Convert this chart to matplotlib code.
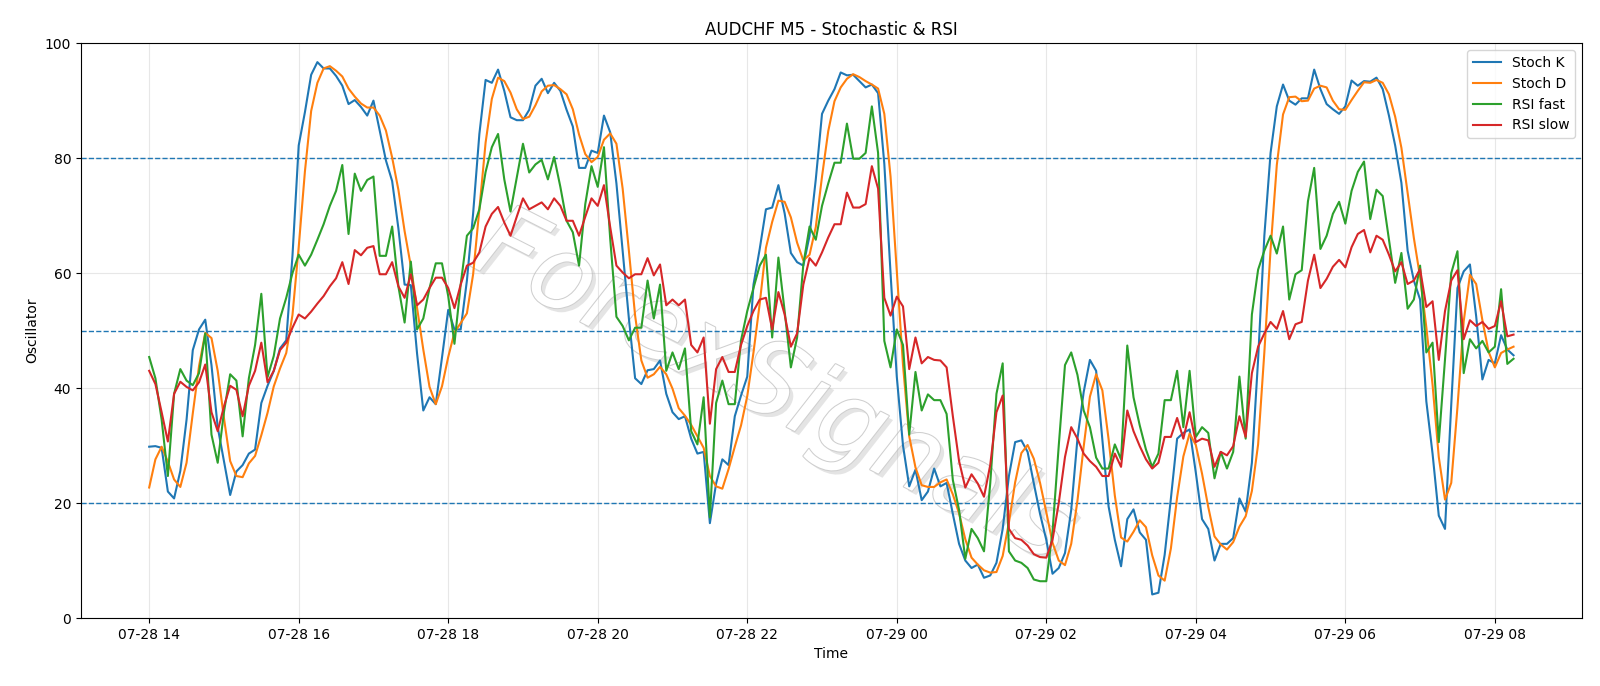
import matplotlib
matplotlib.use("Agg")
import matplotlib.pyplot as plt
import matplotlib.dates as mdates
import matplotlib.patheffects as pe
import pandas as pd

start_time = "2024-07-28 14:00"
n_points = 220

stoch_k = [29.8, 29.9, 29.6, 22.0, 20.8, 25.6, 34.5, 46.6, 50.2, 51.9, 44.0, 33.2, 27.3, 21.4, 25.5, 26.6, 28.6, 29.3, 37.4, 40.4,
           43.0, 46.9, 48.3, 63.0, 82.2, 88.0, 94.5, 96.7, 95.6, 95.6, 94.3, 92.6, 89.4, 90.1, 88.9, 87.4, 90.0, 84.8, 79.6, 76.0,
           67.8, 58.0, 57.9, 46.0, 36.1, 38.4, 37.2, 45.3, 53.6, 50.2, 50.2, 58.7, 70.4, 84.2, 93.6, 93.1, 95.4, 91.7, 87.1, 86.6,
           86.6, 88.4, 92.6, 93.8, 91.3, 93.1, 91.7, 88.4, 85.5, 78.3, 78.3, 81.3, 80.9, 87.4, 84.5, 75.6, 63.9, 52.1, 41.7, 40.7,
           43.1, 43.3, 44.8, 39.0, 35.8, 34.6, 35.1, 31.2, 28.6, 28.9, 16.5, 23.4, 27.6, 26.6, 35.1, 38.7, 42.0, 58.0, 64.2, 71.1,
           71.4, 75.3, 70.4, 63.5, 61.9, 61.3, 66.5, 76.3, 87.7, 90.0, 92.0, 94.9, 94.4, 94.5, 93.4, 92.3, 92.8, 91.3, 79.0, 60.0,
           42.0, 30.0, 22.9, 25.8, 20.5, 22.0, 26.0, 22.9, 23.5, 18.1, 12.9, 10.0, 8.7, 9.3, 7.0, 7.4, 9.6, 15.5, 24.7, 30.6,
           30.9, 28.9, 23.4, 18.1, 13.6, 7.7, 8.7, 11.3, 18.8, 31.2, 39.3, 44.9, 43.0, 31.0, 19.4, 13.6, 9.0, 17.2, 18.9, 14.9,
           13.6, 4.1, 4.4, 11.0, 20.8, 31.2, 32.2, 32.8, 25.3, 17.2, 15.5, 10.0, 12.9, 12.9, 13.9, 20.8, 18.5, 27.0, 45.0, 66.5,
           80.9, 89.0, 92.8, 90.0, 89.3, 90.4, 90.4, 95.4, 92.0, 89.4, 88.5, 87.7, 89.0, 93.5, 92.6, 93.4, 93.3, 94.0, 92.0, 87.4,
           82.2, 75.7, 63.9, 58.7, 55.4, 37.7, 28.6, 17.8, 15.5, 37.1, 57.4, 60.3, 61.5, 52.5, 41.5, 44.9, 44.3, 49.2, 46.7, 45.7]

stoch_d = [22.7, 27.6, 29.8, 27.2, 24.1, 22.8, 27.0, 35.6, 43.8, 49.6, 48.7, 43.0, 34.8, 27.3, 24.7, 24.5, 26.9, 28.2, 31.8, 35.7,
           40.3, 43.4, 46.1, 52.7, 64.5, 77.7, 88.2, 93.1, 95.6, 96.0, 95.2, 94.2, 92.1, 90.7, 89.5, 88.8, 88.8, 87.4, 84.8, 80.1,
           74.5, 67.3, 61.2, 54.0, 46.7, 40.2, 37.2, 40.3, 45.4, 49.7, 51.3, 53.0, 59.8, 71.1, 82.7, 90.3, 94.0, 93.4, 91.4, 88.5,
           86.8, 87.2, 89.2, 91.6, 92.6, 92.7, 92.0, 91.1, 88.5, 84.1, 80.7, 79.3, 80.2, 83.2, 84.3, 82.5, 74.7, 63.9, 52.6, 44.8,
           41.8, 42.4, 43.7, 42.4, 39.9, 36.5, 35.2, 33.6, 31.6, 29.6, 24.7, 22.9, 22.5, 25.9, 29.8, 33.5, 38.6, 46.2, 54.7, 64.4,
           68.9, 72.6, 72.4, 69.7, 65.3, 62.2, 63.2, 68.0, 76.8, 84.7, 89.9, 92.3, 93.8, 94.6, 94.1, 93.4, 92.8, 92.1, 87.7, 76.8,
           60.3, 44.0, 31.6, 26.2, 23.1, 22.8, 22.8, 23.6, 24.1, 21.5, 18.2, 13.7, 10.5, 9.3, 8.3, 7.9, 8.0, 10.8, 16.6, 23.6,
           28.7, 30.1, 27.7, 23.5, 18.4, 13.1, 10.0, 9.2, 12.9, 20.4, 29.8, 38.5, 42.4, 39.6, 31.1, 21.3, 14.0, 13.3, 15.0, 17.0,
           15.8, 10.9, 7.4, 6.5, 12.1, 21.0, 28.1, 32.1, 30.1, 25.1, 19.3, 14.2, 12.8, 11.9, 13.2, 15.9, 17.7, 22.1, 30.2, 46.2,
           64.1, 78.8, 87.6, 90.6, 90.7, 89.9, 90.0, 92.1, 92.6, 92.3, 90.0, 88.5, 88.4, 90.1, 91.7, 93.2, 93.1, 93.6, 93.1, 91.1,
           87.2, 81.8, 73.9, 66.1, 59.3, 50.6, 40.6, 28.0, 20.6, 23.5, 36.7, 51.6, 59.7, 58.1, 51.8, 46.3, 43.6, 46.1, 46.7, 47.2]

rsi_fast = [45.4, 41.7, 34.5, 24.7, 39.0, 43.3, 41.3, 40.5, 42.6, 49.5, 31.9, 27.0, 35.8, 42.4, 41.3, 31.6, 41.7, 47.5, 56.4, 41.9,
            45.6, 52.1, 55.7, 60.0, 63.2, 61.3, 63.2, 65.8, 68.5, 71.7, 74.3, 78.8, 66.8, 77.3, 74.3, 76.2, 76.8, 63.0, 63.0, 68.1,
            57.7, 51.4, 62.0, 50.2, 52.1, 57.4, 61.7, 61.7, 56.0, 47.7, 58.0, 66.5, 67.8, 71.1, 77.6, 81.9, 84.2, 76.3, 70.7, 76.6,
            82.5, 77.5, 78.9, 79.7, 76.3, 80.2, 75.0, 69.1, 67.1, 61.3, 72.0, 78.6, 75.0, 81.9, 66.0, 52.4, 50.8, 48.3, 50.5, 50.5,
            58.7, 52.1, 58.0, 43.0, 46.2, 43.3, 46.9, 32.5, 30.2, 38.4, 17.5, 37.4, 41.3, 37.2, 37.2, 48.3, 53.4, 57.4, 61.3, 63.2,
            48.8, 62.7, 53.4, 43.6, 48.8, 61.5, 68.1, 65.8, 71.7, 75.6, 79.2, 79.2, 86.0, 79.9, 79.9, 80.9, 89.0, 80.9, 48.2, 43.6,
            50.2, 47.5, 31.9, 42.8, 36.1, 38.9, 37.9, 37.9, 35.5, 24.0, 18.8, 10.3, 15.5, 13.9, 11.6, 23.4, 39.0, 44.3, 11.6, 10.0,
            9.6, 8.7, 6.7, 6.4, 6.4, 15.0, 30.0, 44.0, 46.2, 42.3, 36.1, 33.2, 27.9, 26.0, 26.0, 30.2, 27.6, 47.4, 38.4, 33.5,
            29.3, 26.3, 28.6, 37.9, 37.9, 43.0, 33.2, 43.0, 31.5, 33.2, 32.2, 24.3, 28.9, 26.0, 28.9, 42.0, 31.2, 52.8, 60.6, 63.9,
            66.5, 63.4, 68.1, 55.4, 59.8, 60.5, 72.5, 78.3, 64.2, 66.5, 70.3, 72.4, 68.6, 74.3, 77.6, 79.4, 69.4, 74.5, 73.4, 65.8,
            58.3, 63.5, 53.8, 55.4, 61.3, 46.2, 47.9, 30.6, 45.0, 60.0, 63.8, 42.6, 48.5, 46.9, 48.2, 46.2, 47.2, 57.2, 44.2, 45.1]

rsi_slow = [43.0, 40.7, 35.8, 30.7, 39.0, 41.1, 40.2, 39.6, 41.0, 44.1, 35.8, 32.5, 36.8, 40.4, 39.7, 35.1, 40.4, 43.0, 47.9, 41.0,
            43.0, 46.6, 47.9, 50.5, 52.8, 52.1, 53.3, 54.7, 56.0, 57.7, 59.1, 61.9, 58.1, 64.0, 63.1, 64.4, 64.7, 59.8, 59.8, 61.9,
            57.7, 55.7, 59.8, 54.4, 55.4, 57.4, 59.2, 59.2, 57.4, 53.9, 58.0, 61.3, 61.8, 63.6, 68.1, 70.3, 71.5, 68.8, 66.5, 69.8,
            73.0, 71.1, 71.7, 72.3, 71.1, 73.0, 71.7, 69.1, 69.1, 66.5, 69.8, 73.0, 71.7, 75.3, 68.0, 61.3, 60.1, 59.1, 59.8, 59.8,
            62.6, 59.6, 61.5, 54.4, 55.4, 54.4, 55.4, 47.5, 46.2, 48.8, 33.8, 43.3, 45.4, 42.8, 42.8, 47.5, 50.8, 53.4, 55.4, 55.7,
            50.2, 56.7, 52.8, 47.2, 49.5, 58.0, 62.6, 61.3, 63.6, 66.2, 68.5, 68.5, 74.0, 71.4, 71.4, 72.0, 78.6, 74.7, 55.7, 52.6,
            55.9, 54.2, 43.3, 48.8, 44.3, 45.4, 44.9, 44.8, 43.6, 35.1, 27.3, 22.7, 25.0, 23.4, 21.1, 26.6, 35.8, 38.7, 15.5, 13.9,
            13.6, 12.6, 11.1, 10.6, 10.5, 13.6, 20.0, 28.0, 33.2, 31.2, 28.6, 27.3, 26.3, 24.7, 24.7, 28.6, 26.3, 36.1, 32.5, 29.9,
            27.6, 26.0, 27.0, 31.5, 31.5, 34.8, 31.2, 35.8, 30.6, 31.2, 30.9, 26.3, 28.9, 28.3, 29.9, 35.1, 31.5, 42.6, 47.2, 49.5,
            51.5, 50.3, 53.4, 48.5, 51.1, 51.5, 58.7, 63.2, 57.4, 59.0, 61.1, 62.3, 61.0, 64.5, 66.8, 67.5, 63.6, 66.5, 65.8, 63.2,
            60.3, 61.9, 58.1, 58.7, 60.7, 54.1, 55.1, 44.9, 53.4, 58.7, 60.5, 48.5, 51.8, 50.8, 51.5, 50.3, 50.8, 55.1, 49.0, 49.3]

levels = [20, 50, 80]
series_labels = ["Stoch K", "Stoch D", "RSI fast", "RSI slow"]
watermark = "ForexSignals"

times = pd.date_range(start_time, periods=n_points, freq="5min")

fig = plt.figure(figsize=(16, 6.86), dpi=100)
ax = fig.add_axes([0.0506, 0.0991, 0.938, 0.838])

ax.plot(times, stoch_k, color="#1f77b4", lw=1.5, label=series_labels[0], zorder=3)
ax.plot(times, stoch_d, color="#ff7f0e", lw=1.5, label=series_labels[1], zorder=3)
ax.plot(times, rsi_fast, color="#2ca02c", lw=1.5, label=series_labels[2], zorder=3)
ax.plot(times, rsi_slow, color="#d62728", lw=1.5, label=series_labels[3], zorder=3)

for lv in levels:
    ax.axhline(lv, color="#1f77b4", linestyle="--", lw=1, zorder=2)

ax.set_ylim(0, 100)
ax.grid(True, alpha=0.3)
ax.xaxis.set_major_locator(mdates.HourLocator(byhour=range(0, 24, 2)))
ax.xaxis.set_major_formatter(mdates.DateFormatter("%m-%d %H"))
ax.set_title("AUDCHF M5 - Stochastic & RSI")
ax.set_xlabel("Time")
ax.set_ylabel("Oscillator")
ax.legend(loc="upper right")

ax.text(0.462, 0.40, watermark, transform=ax.transAxes, fontsize=74,
        fontstyle="italic", color="white", rotation=-27, ha="center", va="center",
        zorder=1,
        path_effects=[pe.withSimplePatchShadow(offset=(3, -3), shadow_rgbFace="#a8a8a8", alpha=0.3),
                      pe.Stroke(linewidth=1.5, foreground="#cfcfcf"), pe.Normal()])

fig.savefig("out.png", dpi=100)
